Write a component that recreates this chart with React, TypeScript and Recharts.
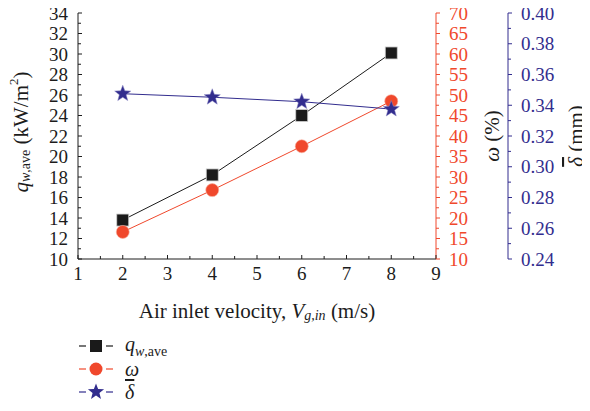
import React from "react";
import { LineChart, Line, XAxis, YAxis } from "recharts";

// air inlet velocity V_g,in (m/s)
const velocity = [2, 4, 6, 8];
// average wall heat flux q_w,ave (kW/m2)
const heatFlux = [13.8, 18.2, 24.0, 30.1];
// omega (%)
const omegaPct = [16.6, 26.8, 37.5, 48.5];
// mean film thickness (mm)
const filmThickness = [0.3475, 0.3452, 0.3423, 0.3375];

const xMajor = [1, 2, 3, 4, 5, 6, 7, 8, 9];
const qMajor = [10, 12, 14, 16, 18, 20, 22, 24, 26, 28, 30, 32, 34];
const wMajor = [10, 15, 20, 25, 30, 35, 40, 45, 50, 55, 60, 65, 70];
const dMajor = [0.24, 0.26, 0.28, 0.3, 0.32, 0.34, 0.36, 0.38, 0.4];

const INK = "#1c1c1c";
const RED = "#f0482c";
const NAVY = "#322d8e";
const FONT = '"Liberation Serif", "Times New Roman", serif';
const serif = { fontFamily: FONT };
const TICK_FS = 19;
const LABEL_FS = 21;

const withMinor = (major: number[]) => {
  const out: number[] = [];
  major.forEach((m, i) => {
    out.push(m);
    if (i < major.length - 1) out.push(+((m + major[i + 1]) / 2).toFixed(4));
  });
  return out;
};

const rows = velocity.map((v, i) => ({ v, q: heatFlux[i], w: omegaPct[i], d: filmThickness[i] }));

type Side = "left" | "right" | "bottom" | "top";

function makeTick(side: Side, color: string, major: number[], dir: number, fmt?: (v: number) => string) {
  return (props: any) => {
    const { x, y, payload, index } = props;
    const v = payload.value;
    const isMajor = major.some((m) => Math.abs(m - v) < 1e-6);
    const len = isMajor ? 4 : 3;
    let line;
    let label = null;
    if (side === "left" || side === "right") {
      line = <line x1={x} y1={y} x2={x + dir * len} y2={y} stroke={color} strokeWidth={1} />;
      if (isMajor && fmt) {
        label =
          side === "left" ? (
            <text x={x - 10} y={y} textAnchor="end" dominantBaseline="central" fill={color} fontSize={TICK_FS} style={serif}>
              {fmt(v)}
            </text>
          ) : (
            <text x={x + 13} y={y} textAnchor="start" dominantBaseline="central" fill={color} fontSize={TICK_FS} style={serif}>
              {fmt(v)}
            </text>
          );
      }
    } else {
      line = <line x1={x} y1={y} x2={x} y2={y + dir * len} stroke={color} strokeWidth={1} />;
      if (isMajor && fmt) {
        label = (
          <text x={x} y={y + 14} textAnchor="middle" dominantBaseline="central" fill={color} fontSize={TICK_FS} style={serif}>
            {fmt(v)}
          </text>
        );
      }
    }
    return (
      <g key={`t-${side}-${index}`}>
        {line}
        {label}
      </g>
    );
  };
}

const Square = (props: any) => {
  const { cx, cy, index } = props;
  return <rect key={`sq-${index}`} x={cx - 6} y={cy - 6} width={12} height={12} fill="#1a1a1a" stroke="#cfcfcf" strokeWidth={0.8} />;
};

const Circle = (props: any) => {
  const { cx, cy, index } = props;
  return <circle key={`ci-${index}`} cx={cx} cy={cy} r={6.5} fill={RED} stroke="#f7b0a0" strokeWidth={0.6} />;
};

const starPath = (cx: number, cy: number, R: number, r: number) => {
  const pts: string[] = [];
  for (let i = 0; i < 10; i++) {
    const rad = i % 2 === 0 ? R : r;
    const a = -Math.PI / 2 + (i * Math.PI) / 5;
    pts.push(`${(cx + rad * Math.cos(a)).toFixed(2)},${(cy + rad * Math.sin(a)).toFixed(2)}`);
  }
  return `M${pts.join("L")}Z`;
};

const Star = (props: any) => {
  const { cx, cy, index } = props;
  return <path key={`st-${index}`} d={starPath(cx, cy, 8.5, 3.6)} fill={NAVY} stroke="#8c89c4" strokeWidth={0.5} />;
};

const LeftLabel = (props: any) => {
  const vb = props.viewBox || { x: 0, y: 13, width: 78, height: 246 };
  const cx = vb.x + 21;
  const cy = vb.y + vb.height / 2 - 4;
  return (
    <text transform={`translate(${cx},${cy}) rotate(-90)`} textAnchor="middle" dominantBaseline="central" fill={INK} fontSize={LABEL_FS} style={serif}>
      <tspan fontStyle="italic">q</tspan>
      <tspan fontStyle="italic" fontSize={14} dy={4}>w</tspan>
      <tspan fontSize={14}>,ave</tspan>
      <tspan dy={-4}> (kW/m</tspan>
      <tspan fontSize={13} dy={-8}>2</tspan>
      <tspan dy={8}>)</tspan>
    </text>
  );
};

const OmegaLabel = (props: any) => {
  const vb = props.viewBox || { x: 436, y: 13, width: 72, height: 246 };
  const cx = vb.x + 56;
  const cy = vb.y + vb.height / 2;
  return (
    <text transform={`translate(${cx},${cy}) rotate(-90)`} textAnchor="middle" dominantBaseline="central" fill={INK} fontSize={LABEL_FS} style={serif}>
      <tspan fontStyle="italic">ω</tspan>
      <tspan> (%)</tspan>
    </text>
  );
};

const DeltaLabel = (props: any) => {
  const vb = props.viewBox || { x: 508, y: 13, width: 82, height: 246 };
  const cx = vb.x + 68;
  const cy = vb.y + vb.height / 2;
  return (
    <text transform={`translate(${cx},${cy}) rotate(-90)`} textAnchor="middle" dominantBaseline="central" fill={INK} fontSize={LABEL_FS} style={serif}>
      <tspan fontStyle="italic" style={{ textDecoration: "overline" }}>δ</tspan>
      <tspan> (mm)</tspan>
    </text>
  );
};

const XLabel = (props: any) => {
  const vb = props.viewBox || { x: 78, y: 259, width: 358, height: 70 };
  const cx = vb.x + vb.width / 2;
  const cy = vb.y + 52;
  return (
    <text x={cx} y={cy} textAnchor="middle" dominantBaseline="central" fill={INK} fontSize={LABEL_FS} style={serif}>
      <tspan>Air inlet velocity, </tspan>
      <tspan fontStyle="italic">V</tspan>
      <tspan fontStyle="italic" fontSize={14} dy={4}>g,in</tspan>
      <tspan dy={-4}> (m/s)</tspan>
    </text>
  );
};

const legendItems = [
  { key: "q", color: INK, marker: "square" },
  { key: "w", color: RED, marker: "circle" },
  { key: "d", color: NAVY, marker: "star" },
];

const LegendLabel = ({ k }: { k: string }) => {
  if (k === "q")
    return (
      <span>
        <i>q</i>
        <sub style={{ fontSize: 14 }}>
          <i>w</i>,ave
        </sub>
      </span>
    );
  if (k === "w") return <i>ω</i>;
  return <i style={{ textDecoration: "overline" }}>δ</i>;
};

export default function App() {
  return (
    <div style={{ position: "relative", top: -8, left: -8, width: 590, height: 411, fontFamily: FONT }}>
      <LineChart width={590} height={329} data={rows} margin={{ top: 13, right: 0, bottom: 0, left: 0 }} style={serif}>
        <XAxis
          dataKey="v"
          type="number"
          domain={[1, 9]}
          ticks={withMinor(xMajor)}
          interval={0}
          height={70}
          stroke={INK}
          tickSize={0}
          tickMargin={0}
          tickLine={false}
          tick={makeTick("bottom", INK, xMajor, -1, (v) => String(v))}
          label={(p: any) => <XLabel {...p} />}
        />
        <XAxis
          xAxisId="top"
          orientation="top"
          dataKey="v"
          type="number"
          domain={[1, 9]}
          ticks={withMinor(xMajor)}
          interval={0}
          height={0}
          stroke={INK}
          tickSize={0}
          tickMargin={0}
          tickLine={false}
          tick={makeTick("top", INK, xMajor, 1)}
        />
        <YAxis
          yAxisId="q"
          orientation="left"
          type="number"
          domain={[10, 34]}
          ticks={withMinor(qMajor)}
          interval={0}
          width={78}
          stroke={INK}
          tickSize={0}
          tickMargin={0}
          tickLine={false}
          tick={makeTick("left", INK, qMajor, 1, (v) => String(v))}
          label={(p: any) => <LeftLabel {...p} />}
        />
        <YAxis
          yAxisId="omega"
          orientation="right"
          type="number"
          domain={[10, 70]}
          ticks={withMinor(wMajor)}
          interval={0}
          width={72}
          stroke={RED}
          tickSize={0}
          tickMargin={0}
          tickLine={false}
          tick={makeTick("right", RED, wMajor, 1, (v) => String(v))}
          label={(p: any) => <OmegaLabel {...p} />}
        />
        <YAxis
          yAxisId="thick"
          orientation="right"
          type="number"
          domain={[0.24, 0.4]}
          ticks={withMinor(dMajor)}
          interval={0}
          width={82}
          stroke={NAVY}
          tickSize={0}
          tickMargin={0}
          tickLine={false}
          tick={makeTick("right", NAVY, dMajor, 1, (v) => v.toFixed(2))}
          label={(p: any) => <DeltaLabel {...p} />}
        />
        <Line yAxisId="q" dataKey="q" stroke={INK} strokeWidth={1} dot={Square} activeDot={false} isAnimationActive={false} />
        <Line yAxisId="omega" dataKey="w" stroke={RED} strokeWidth={1} dot={Circle} activeDot={false} isAnimationActive={false} />
        <Line yAxisId="thick" dataKey="d" stroke={NAVY} strokeWidth={1} dot={Star} activeDot={false} isAnimationActive={false} />
      </LineChart>
      {legendItems.map((it, i) => (
        <div
          key={it.key}
          style={{ position: "absolute", left: 78, top: 335 + i * 23, height: 22, display: "flex", alignItems: "center", fontSize: 20, color: INK }}
        >
          <svg width={36} height={22} style={{ marginRight: 11 }}>
            <line x1={1} y1={11} x2={8} y2={11} stroke={it.color} strokeWidth={1.2} />
            <line x1={28} y1={11} x2={35} y2={11} stroke={it.color} strokeWidth={1.2} />
            {it.marker === "square" && <rect x={12} y={5} width={12} height={12} fill="#1a1a1a" />}
            {it.marker === "circle" && <circle cx={18} cy={11} r={6.5} fill={RED} />}
            {it.marker === "star" && <path d={starPath(18, 11, 8.5, 3.6)} fill={NAVY} />}
          </svg>
          <LegendLabel k={it.key} />
        </div>
      ))}
    </div>
  );
}
